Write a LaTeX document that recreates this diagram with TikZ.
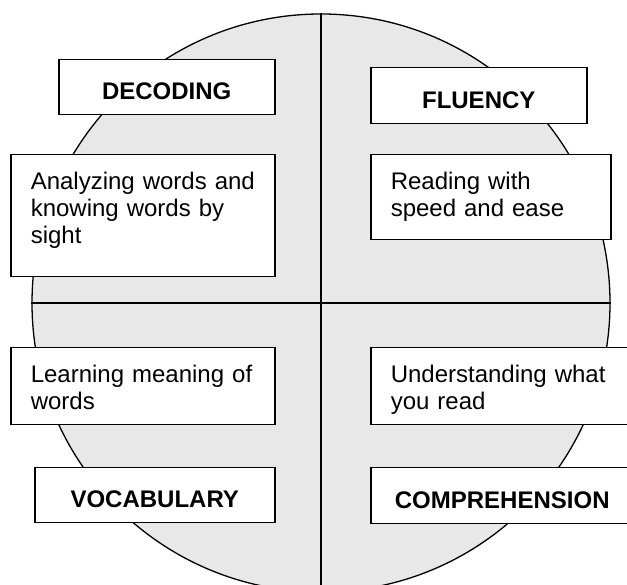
\documentclass[tikz,border=0pt]{standalone}
\usepackage{fontspec}
\setmainfont{Liberation Sans}
\usetikzlibrary{positioning}
\tikzset{
  rule/.style={line width=1.3pt},
  headbox/.style={draw,line width=1.5pt,fill=white,anchor=north west,inner sep=0pt,
    minimum height=55pt,text height=25pt,text depth=0pt,
    font=\bfseries\fontsize{24}{27}\selectfont},
  notebox/.style={draw,line width=1.5pt,fill=white,anchor=north west,align=left,
    inner xsep=20pt,inner ysep=0pt,text height=35pt,
    font=\fontsize{24}{27}\selectfont}
}

\begin{document}
\begin{tikzpicture}[x=1pt,y=1pt]
  \useasboundingbox (0,0) rectangle (627,585);
  \clip (0,0) rectangle (627,585);
  % the wheel and its quarters
  \node[circle,draw,rule,fill=black!9,minimum size=578pt,inner sep=0pt] (wheel) at (321,282) {};
  \draw[rule] (wheel.north) -- (wheel.south);
  \draw[rule] (wheel.west) -- (wheel.east);
  % headings
  \node[headbox,minimum width=216pt] (dec) at (58,526) {DECODING};
  \node[headbox,minimum width=216pt,minimum height=56pt] (flu) at (370,518) {FLUENCY};
  \node[headbox,minimum width=240pt] (voc) at (34,118) {VOCABULARY};
  \node[headbox,minimum width=263pt,minimum height=56pt] (com) at (370,118) {COMPREHENSION};
  % notes
  \node[notebox,text width=224pt,text depth=87pt] (ana) at (10,431)
    {\mbox{Analyzing words and}\\\mbox{knowing words by}\\sight};
  \node[notebox,text width=200pt,text depth=50pt] (rea) at (370,431)
    {Reading with\\speed and ease};
  \node[notebox,text width=224pt,text depth=42pt] (lea) at (10,238)
    {\mbox{Learning meaning of}\\words};
  \node[notebox,text width=223pt,text depth=42pt] (und) at (370,238)
    {\mbox{Understanding what}\\you read};
\end{tikzpicture}
\end{document}
